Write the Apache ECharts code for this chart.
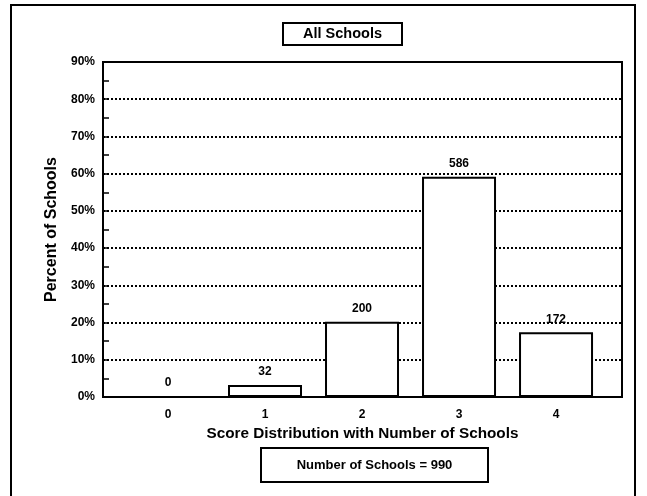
<!DOCTYPE html>
<html>
<head>
<meta charset="utf-8">
<script src="https://cdn.jsdelivr.net/npm/echarts@6/dist/echarts.min.js"></script>
<style>html,body{margin:0;padding:0;background:#fff}#c{width:647px;height:496px}</style>
</head>
<body>
<div id="c"></div>
<script>
const scores = [0, 1, 2, 3, 4];
const counts = [0, 32, 200, 586, 172];
const totalSchools = 990;
const yTicks = [0, 10, 20, 30, 40, 50, 60, 70, 80, 90];
const titleText = 'All Schools';
const xName = 'Score Distribution with Number of Schools';
const yName = 'Percent of Schools';
const noteText = 'Number of Schools = ' + totalSchools;

const F = 'Liberation Sans, Arial, sans-serif';
const chart = echarts.init(document.getElementById('c'));
const data = scores.map((s, i) => [s, counts[i] / totalSchools * 100]);

chart.setOption({
  animation: false,
  backgroundColor: '#fff',
  grid: { left: 103, top: 62, right: 25, bottom: 99, show: true, borderColor: '#000', borderWidth: 2, backgroundColor: 'transparent' },
  xAxis: {
    type: 'value', min: -0.67, max: 4.68,
    axisLine: { show: true, onZero: false, lineStyle: { color: '#000', width: 2 } },
    axisTick: { show: false },
    splitLine: { show: false },
    axisLabel: { customValues: scores, formatter: v => String(v), color: '#000', fontFamily: F, fontWeight: 'bold', fontSize: 12, margin: 12 },
    name: xName, nameLocation: 'middle', nameGap: 22,
    nameTextStyle: { color: '#000', fontFamily: F, fontWeight: 'bold', fontSize: 15.3 }
  },
  yAxis: {
    type: 'value', min: yTicks[0], max: yTicks[yTicks.length - 1], interval: 10,
    axisLine: { show: true, onZero: false, lineStyle: { color: '#000', width: 2 } },
    axisTick: { show: true, inside: true, length: 6, lineStyle: { color: '#000', width: 1.5 } },
    minorTick: { show: true, splitNumber: 2, length: 6, lineStyle: { color: '#000', width: 1.5 } },
    splitLine: { show: true, lineStyle: { color: '#000', width: 2, type: [2, 2] } },
    axisLabel: { formatter: v => v + '%', color: '#000', fontFamily: F, fontWeight: 'bold', fontSize: 12, margin: 8 },
    name: yName, nameLocation: 'middle', nameGap: 43,
    nameTextStyle: { color: '#000', fontFamily: F, fontWeight: 'bold', fontSize: 16 }
  },
  series: [{
    type: 'bar', data: data, barWidth: 74,
    itemStyle: { color: '#fff', borderColor: '#000', borderWidth: 2 },
    label: { show: true, position: 'top', distance: 7, formatter: p => String(counts[p.dataIndex]), color: '#000', fontFamily: F, fontWeight: 'bold', fontSize: 12 }
  }],
  graphic: [
    { type: 'rect', shape: { x: 11, y: 5, width: 624, height: 500 }, style: { fill: 'none', stroke: '#000', lineWidth: 2 }, silent: true },
    { type: 'rect', shape: { x: 283, y: 23, width: 119, height: 22 }, style: { fill: '#fff', stroke: '#000', lineWidth: 2 }, silent: true },
    { type: 'text', x: 342.5, y: 34, style: { text: titleText, fill: '#000', font: 'bold 14.5px ' + F, textAlign: 'center', textVerticalAlign: 'middle' }, silent: true },
    { type: 'rect', shape: { x: 261, y: 448, width: 227, height: 34 }, style: { fill: '#fff', stroke: '#000', lineWidth: 2 }, silent: true },
    { type: 'text', x: 374.5, y: 465, style: { text: noteText, fill: '#000', font: 'bold 13px ' + F, textAlign: 'center', textVerticalAlign: 'middle' }, silent: true }
  ]
});
</script>
</body>
</html>
